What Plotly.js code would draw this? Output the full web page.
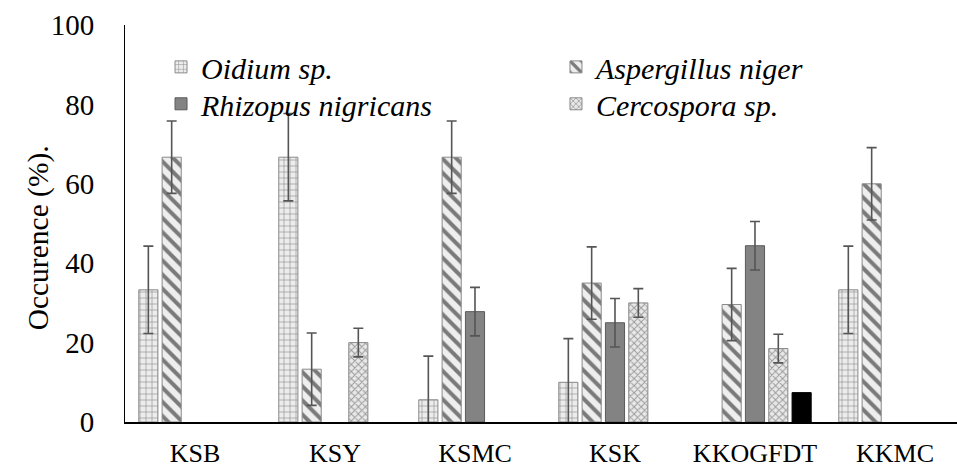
<!DOCTYPE html>
<html>
<head>
<meta charset="utf-8">
<script src="https://cdn.plot.ly/plotly-3.0.1.min.js"></script>
<style>
  html, body { margin: 0; padding: 0; background: #fff; }
  #chart { width: 957px; height: 468px; }
</style>
</head>
<body>
<div id="chart"></div>
<script>
// ---- data ----
const categories = ["KSB", "KSY", "KSMC", "KSK", "KKOGFDT", "KKMC"];
const seriesNames = ["Oidium sp.", "Aspergillus niger", "Rhizopus nigricans", "Cercospora sp."];
const oidium      = [33.3, 66.7, 5.6, 10.0, null, 33.3];
const aspergillus = [66.7, 13.3, 66.7, 35.0, 29.6, 60.0];
const rhizopus    = [null, null, 27.8, 25.0, 44.4, null];
const cercospora  = [null, 20.0, null, 30.0, 18.5, null];
const other       = [null, null, null, null, 7.4, null];
const oidiumErr      = [11, 11, 11, 11, 0, 11];
const aspergillusErr = [9.1, 9.1, 9.1, 9.1, 9.1, 9.1];
const rhizopusErr    = [0, 0, 6.1, 6.1, 6.1, 0];
const cercosporaErr  = [0, 3.6, 0, 3.6, 3.6, 0];
const yTicks = [0, 20, 40, 60, 80, 100];
const yTitle = "Occurence (%).";

const serif = "Liberation Serif";
const errStyle = (arr) => ({type: "data", array: arr, visible: true, color: "#555555", thickness: 1.6, width: 5});

const traces = [
  {
    type: "bar", name: "<i>" + seriesNames[0] + "</i>", x: categories, y: oidium, legend: "legend",
    error_y: errStyle(oidiumErr),
    marker: {color: "#e6e6e6", line: {color: "#8a8a8a", width: 1},
      pattern: {shape: "+", fgcolor: "#8f8f8f", bgcolor: "#ececec", size: 6, solidity: 0.2}}
  },
  {
    type: "bar", name: "<i>" + seriesNames[1] + "</i>", x: categories, y: aspergillus, legend: "legend2",
    error_y: errStyle(aspergillusErr),
    marker: {color: "#e6e6e6", line: {color: "#8a8a8a", width: 1},
      pattern: {shape: "\\", fgcolor: "#7a7a7a", bgcolor: "#eeeeee", size: 10, solidity: 0.4}}
  },
  {
    type: "bar", name: "<i>" + seriesNames[2] + "</i>", x: categories, y: rhizopus, legend: "legend3",
    error_y: errStyle(rhizopusErr),
    marker: {color: "#838383", line: {color: "#5a5a5a", width: 1}}
  },
  {
    type: "bar", name: "<i>" + seriesNames[3] + "</i>", x: categories, y: cercospora, legend: "legend4",
    error_y: errStyle(cercosporaErr),
    marker: {color: "#e0e0e0", line: {color: "#8a8a8a", width: 1},
      pattern: {shape: "x", fgcolor: "#9a9a9a", bgcolor: "#e8e8e8", size: 5, solidity: 0.35}}
  },
  {
    type: "bar", name: "other", x: categories, y: other, showlegend: false,
    marker: {color: "#000000", line: {color: "#000000", width: 1}}
  }
];

function legendAt(x, y) {
  return {
    orientation: "v", xanchor: "left", yanchor: "top", x: x, y: y,
    font: {family: serif, size: 30, color: "#000000"},
    bgcolor: "rgba(0,0,0,0)"
  };
}

const layout = {
  width: 957, height: 468,
  margin: {l: 125, r: 0, t: 25, b: 46, autoexpand: false},
  paper_bgcolor: "#ffffff", plot_bgcolor: "#ffffff",
  barmode: "group", bargap: 0.167, bargroupgap: 0.18,
  font: {family: serif, color: "#000000"},
  xaxis: {
    type: "category", range: [-0.5, 5.443], fixedrange: true,
    showline: true, linecolor: "#000000", linewidth: 2,
    showgrid: false, zeroline: false, ticks: "",
    tickfont: {family: serif, size: 26, color: "#000000"},
    ticklabelstandoff: 7
  },
  yaxis: {
    range: [0, 100], tickvals: yTicks, ticktext: yTicks.map(String),
    showline: true, linecolor: "#000000", linewidth: 1,
    showgrid: false, zeroline: false, ticks: "",
    tickfont: {family: serif, size: 29, color: "#000000"},
    ticklabelstandoff: 24
  },
  annotations: [{
    text: yTitle, xref: "paper", yref: "paper", x: -0.1046, y: 0.465,
    xanchor: "center", yanchor: "middle", textangle: -90, showarrow: false,
    font: {family: serif, size: 29.5, color: "#000000"}
  }],
  showlegend: true,
  legend: legendAt(0.0433, 0.96),
  legend2: legendAt(0.518, 0.96),
  legend3: legendAt(0.0433, 0.867),
  legend4: legendAt(0.518, 0.867)
};

Plotly.newPlot("chart", traces, layout, {displayModeBar: false, staticPlot: true});
</script>
</body>
</html>
